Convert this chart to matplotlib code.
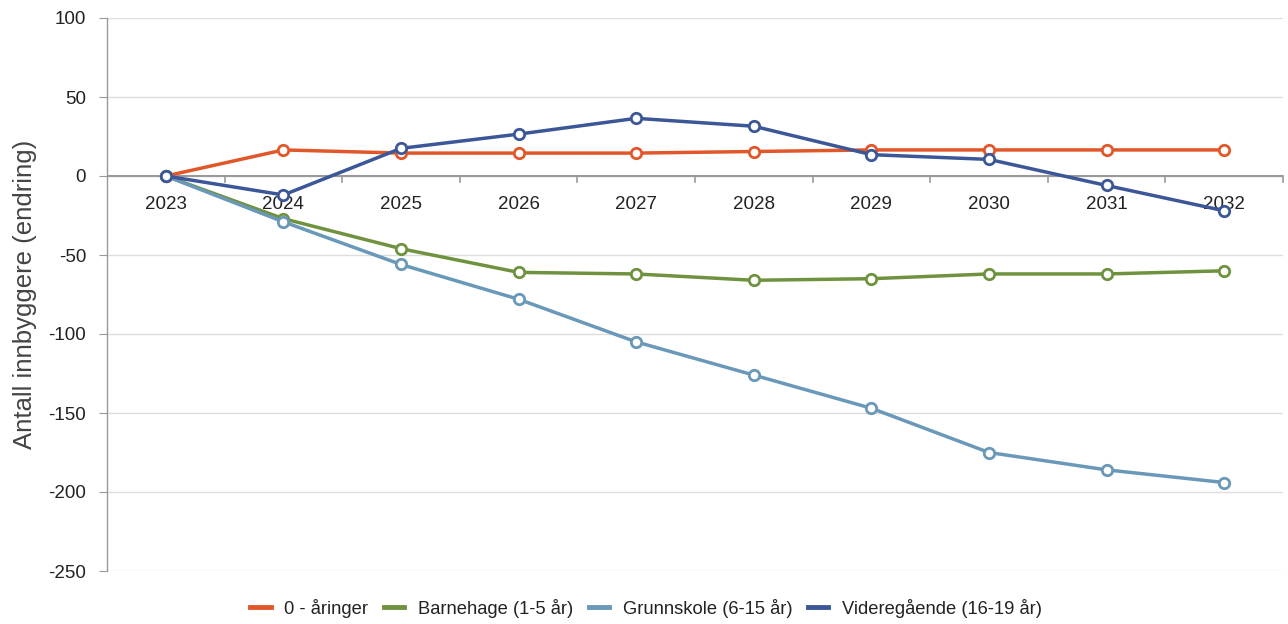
import matplotlib
matplotlib.use("Agg")
import matplotlib.pyplot as plt
from matplotlib.lines import Line2D

years = ["2023", "2024", "2025", "2026", "2027", "2028", "2029", "2030", "2031", "2032"]
aaringer = [0, 16.5, 14.5, 14.5, 14.5, 15.5, 16.5, 16.5, 16.5, 16.5]
barnehage = [0, -27, -46, -61, -62, -66, -65, -62, -62, -60]
grunnskole = [0, -29, -56, -78, -105, -126, -147, -175, -186, -194]
videregaende = [0, -12, 17.5, 26.5, 36.5, 31.5, 13.5, 10.5, -6, -22]

series = [
    ("0 - åringer", aaringer, "#E2572A"),
    ("Barnehage (1-5 år)", barnehage, "#6F923F"),
    ("Grunnskole (6-15 år)", grunnskole, "#6A98B9"),
    ("Videregående (16-19 år)", videregaende, "#3C5797"),
]

plt.rcParams['font.family'] = ['Liberation Sans', 'DejaVu Sans']
plt.rcParams['axes.unicode_minus'] = False

fig = plt.figure(figsize=(12.88, 6.24), dpi=100)
ax = fig.add_axes([107/1288, 1-571/624, (1283-107)/1288, (571-18)/624])

x = list(range(len(years)))
for name, vals, col in series:
    ax.plot(x, vals, color=col, lw=2.5, marker='o', ms=7.5, mfc='white',
            mec=col, mew=2, label=name, zorder=3, solid_capstyle='round')

ax.set_xlim(-0.5, len(years) - 0.5)
ax.set_ylim(-250, 100)
ax.set_yticks(range(-250, 101, 50))
ax.tick_params(axis='y', labelsize=13.5, length=6, color='#999999', colors='#222222', pad=9)
ax.grid(axis='y', color='#DDDDDD', lw=1)
ax.set_axisbelow(True)
for s in ['top', 'right', 'bottom']:
    ax.spines[s].set_visible(False)
ax.spines['left'].set_color('#999999')
ax.spines['left'].set_linewidth(1)

# x axis at zero
ax.axhline(0, color='#999999', lw=1.5, zorder=2)
ax.set_xticks([])
for b in [i + 0.5 for i in range(len(years))]:
    ax.plot([b, b], [0, -3.5], color='#999999', lw=1.2, zorder=2, clip_on=False)
for i, yr in enumerate(years):
    ax.text(i, -12.5, yr, ha='center', va='top', fontsize=13.5, color='#222222', zorder=1)

ax.set_ylabel("Antall innbyggere (endring)", fontsize=18.5, color='#444444', labelpad=8)

handles = [Line2D([0], [0], color=c, lw=3.5) for _, _, c in series]
fig.legend(handles, [n for n, _, _ in series], loc='center', bbox_to_anchor=(646/1288, 1-608/624),
           ncol=4, frameon=False, fontsize=13.2, handlelength=1.1, handletextpad=0.75,
           columnspacing=0.85, labelcolor='#222222')

fig.savefig("out.png", dpi=100)
